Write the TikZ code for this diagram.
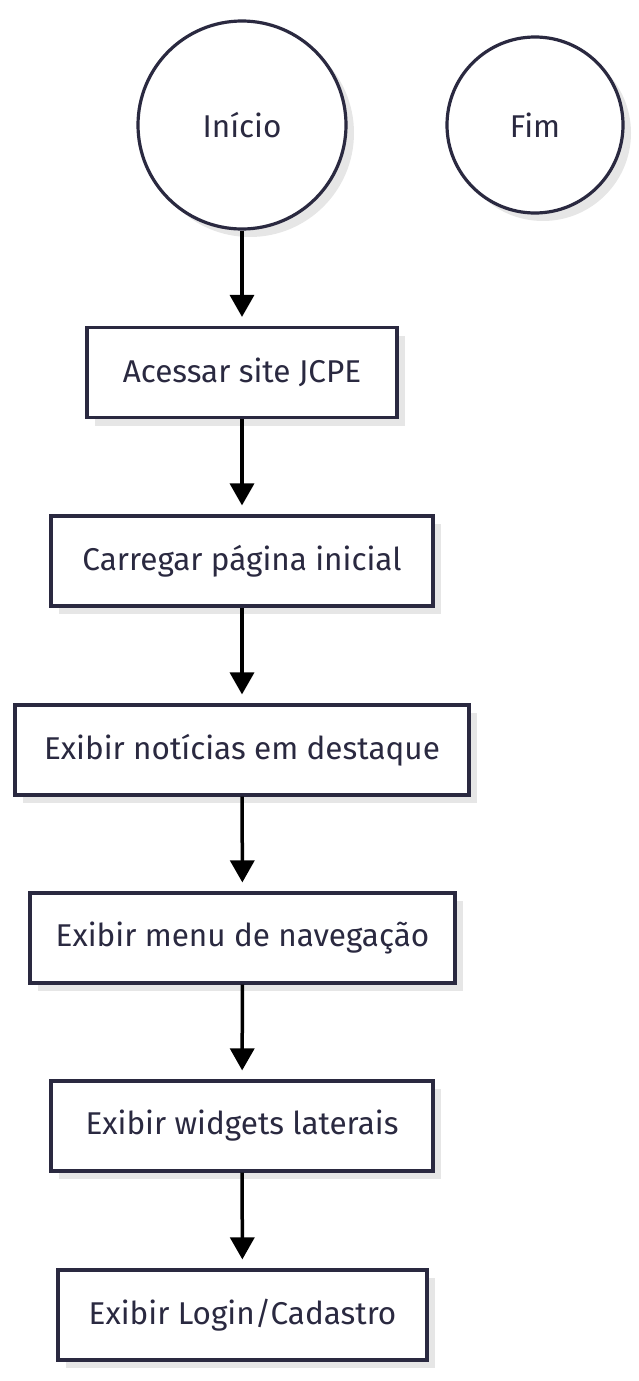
\documentclass[tikz,border=0pt]{standalone}
\usepackage{fontspec}
\setmainfont{Fira Sans}
\usetikzlibrary{arrows.meta,shadows}
\definecolor{ink}{HTML}{2A2940}
\definecolor{shade}{HTML}{E6E6E6}
\begin{document}
\begin{tikzpicture}[x=1pt,y=-1pt,
  every node/.style={font=\fontsize{31.5}{36}\selectfont, text=ink},
  stepbox/.style={draw=ink, line width=3.2pt, fill=white, minimum height=90pt, inner sep=0pt,
    drop shadow={shadow xshift=8pt, shadow yshift=-8pt, fill=shade, opacity=1}},
  endpt/.style={circle, draw=ink, line width=3.2pt, fill=white, inner sep=0pt,
    drop shadow={shadow xshift=8pt, shadow yshift=-8pt, fill=shade, opacity=1}},
  flow/.style={line width=3.5pt, black, -{Triangle[width=24pt,length=22pt]}, shorten >=9pt}]
\useasboundingbox (0,0) rectangle (639,1381);
\node[endpt, minimum size=208pt] (start) at (242,125) {Início};
\node[endpt, minimum size=176pt] (end) at (535,125) {Fim};
\node[stepbox, minimum width=310pt] (s1) at (242,372.5) {Acessar site JCPE};
\node[stepbox, minimum width=382pt] (s2) at (242,561) {Carregar página inicial};
\node[stepbox, minimum width=454pt] (s3) at (242,750) {Exibir notícias em destaque};
\node[stepbox, minimum width=425pt] (s4) at (242.5,938) {Exibir menu de navegação};
\node[stepbox, minimum width=382pt] (s5) at (242,1126) {Exibir widgets laterais};
\node[stepbox, minimum width=369pt] (s6) at (242.5,1315) {Exibir Login/Cadastro};
\draw[flow] (start) -- (s1);
\draw[flow] (s1) -- (s2);
\draw[flow] (s2) -- (s3);
\draw[flow] (s3) -- (s4);
\draw[flow] (s4) -- (s5);
\draw[flow] (s5) -- (s6);
\end{tikzpicture}
\end{document}
